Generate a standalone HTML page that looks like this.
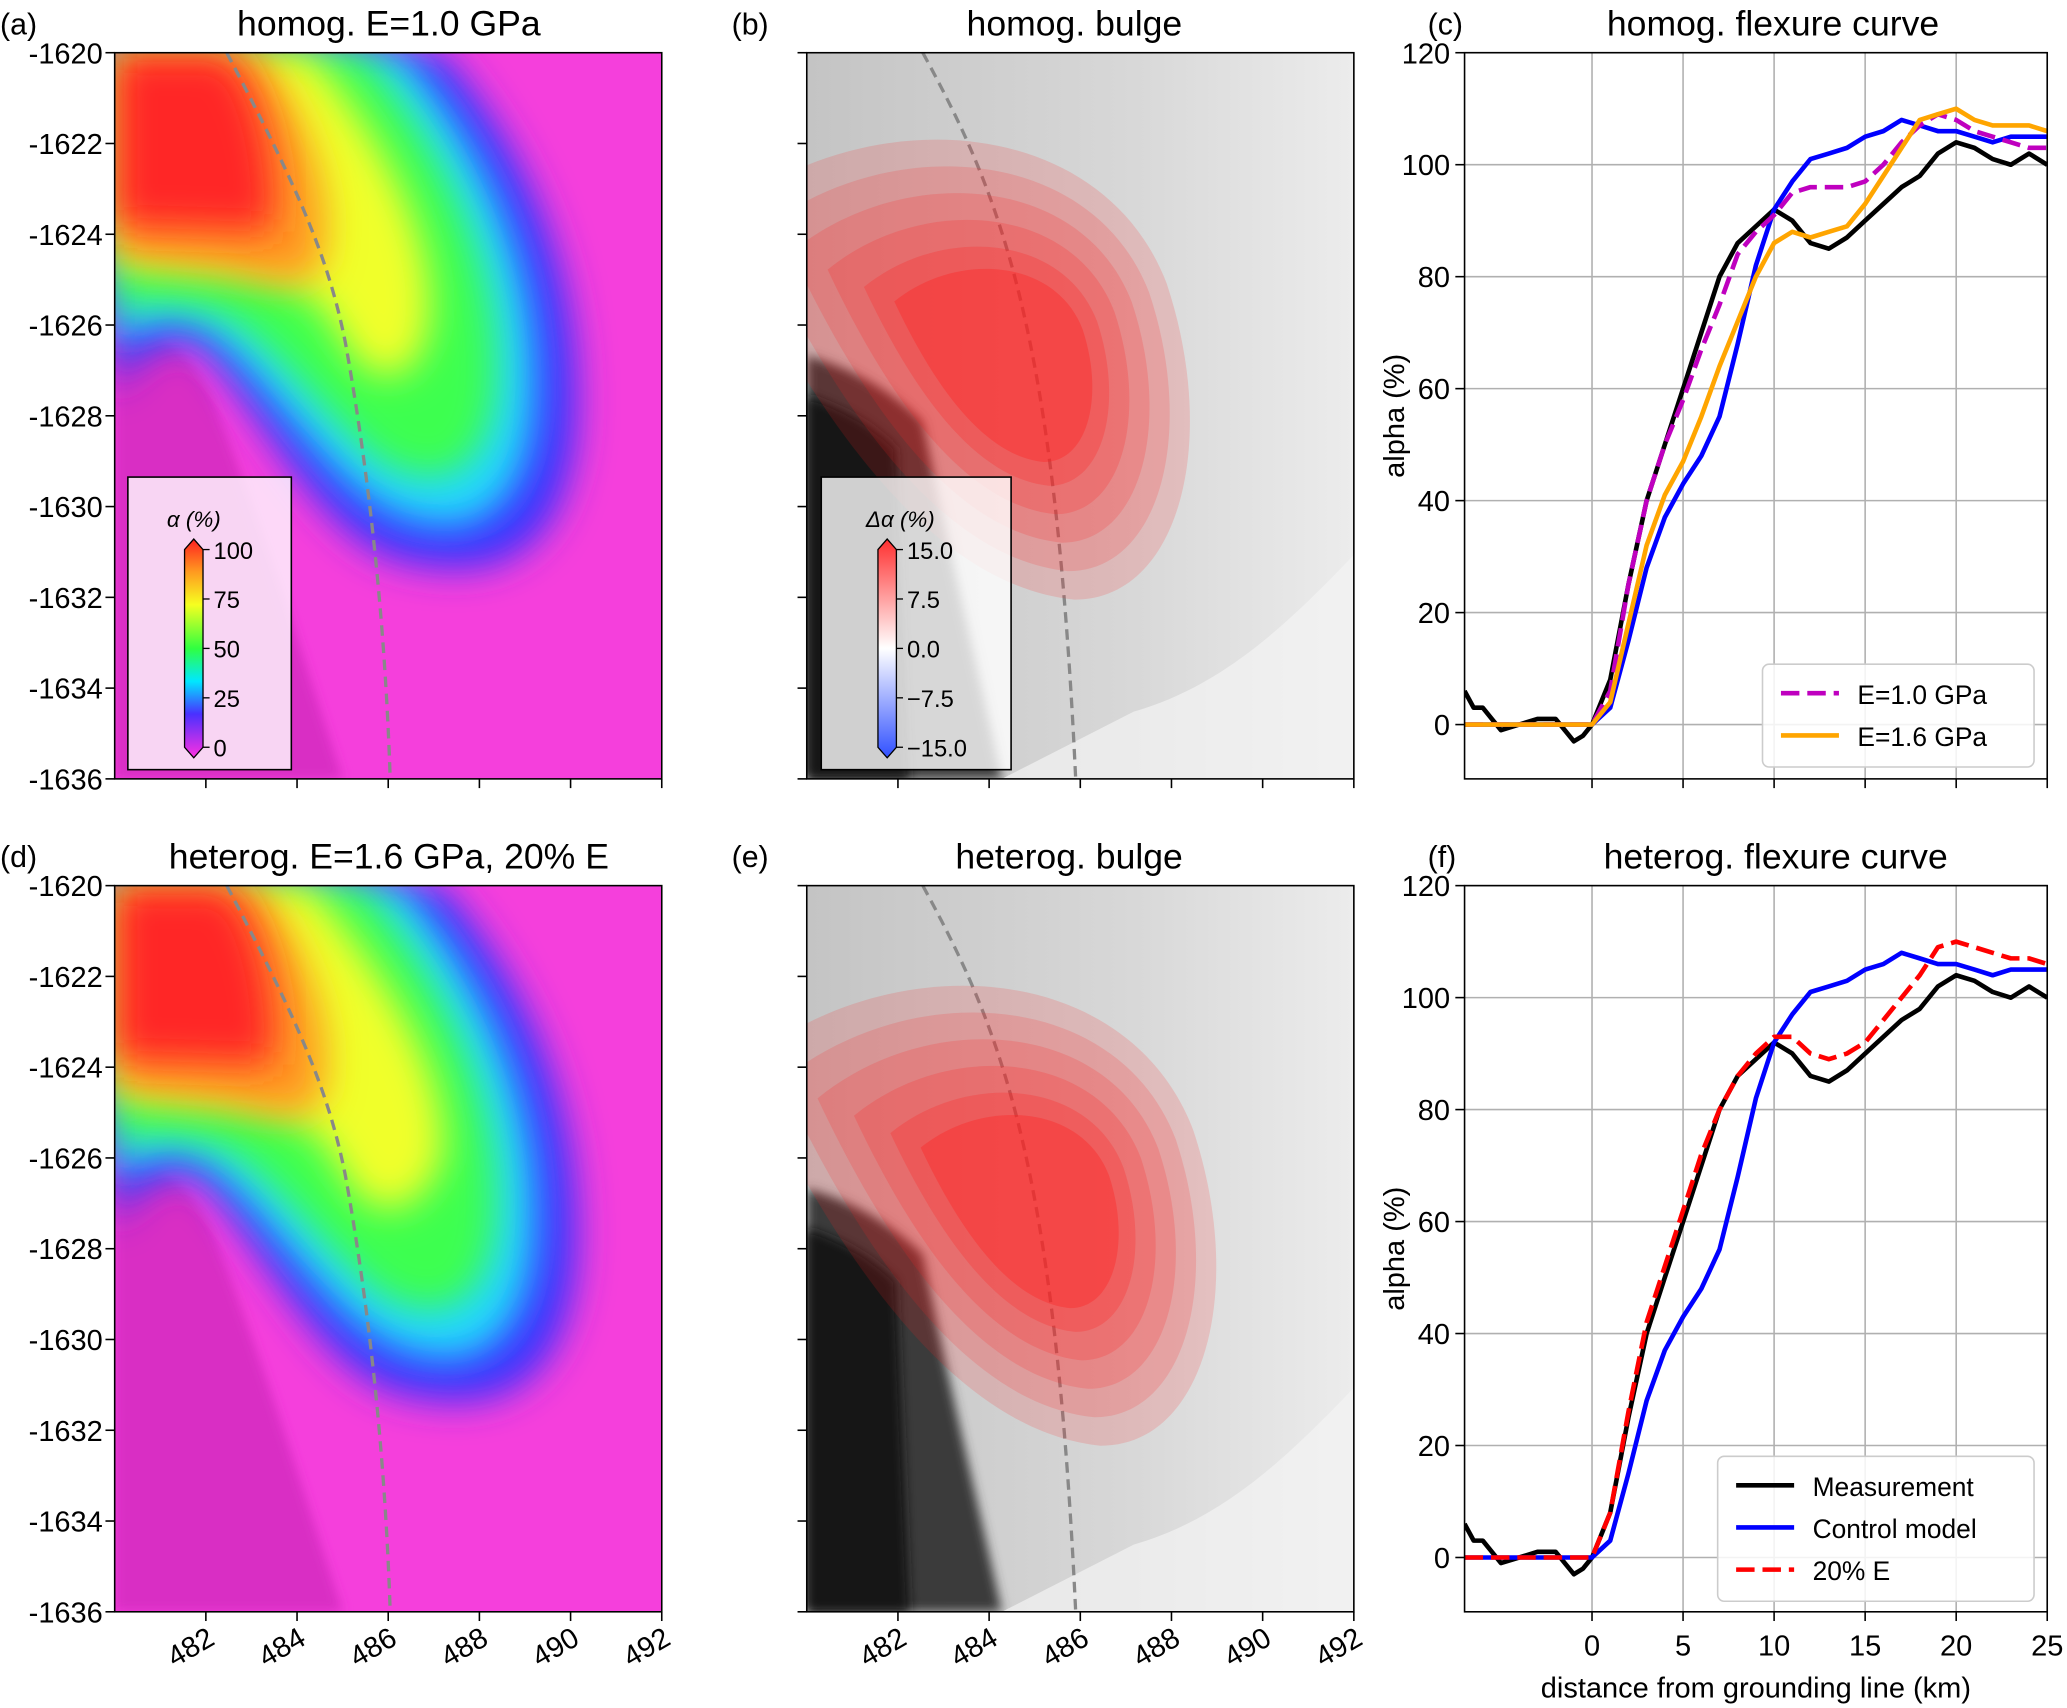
<!DOCTYPE html>
<html><head><meta charset="utf-8">
<style>
body{margin:0;background:#fff;}
svg{display:block;font-family:"Liberation Sans","DejaVu Sans",sans-serif;}
</style></head>
<body>
<svg id="fig" width="2067" height="1708" viewBox="0 0 1568 1296" preserveAspectRatio="none" xmlns="http://www.w3.org/2000/svg">
<defs>
<filter id="blr" x="-20%" y="-20%" width="140%" height="140%"><feGaussianBlur stdDeviation="14"/></filter>
<filter id="blr2" x="-20%" y="-20%" width="140%" height="140%"><feGaussianBlur stdDeviation="4"/></filter>
<clipPath id="cpA"><rect x="87" y="40" width="415" height="551"/></clipPath>
<clipPath id="cpD"><rect x="87" y="672" width="415" height="551"/></clipPath>
<clipPath id="cpB"><rect x="612" y="40" width="416" height="551"/></clipPath>
<clipPath id="cpE"><rect x="612" y="672" width="416" height="551"/></clipPath>
<linearGradient id="cbA" x1="0" y1="1" x2="0" y2="0">
<stop offset="0" stop-color="#ff30e0"/><stop offset="0.2" stop-color="#4a30ff"/><stop offset="0.35" stop-color="#00e8ff"/><stop offset="0.5" stop-color="#30ff40"/><stop offset="0.7" stop-color="#f6ff20"/><stop offset="0.85" stop-color="#ff9a20"/><stop offset="1" stop-color="#ff2020"/></linearGradient>
<linearGradient id="cbB" x1="0" y1="1" x2="0" y2="0">
<stop offset="0" stop-color="#3050ff"/><stop offset="0.5" stop-color="#ffffff"/><stop offset="1" stop-color="#ff3030"/></linearGradient>
<linearGradient id="grayBg" x1="0" y1="0" x2="1" y2="0">
<stop offset="0" stop-color="#c4c4c4"/><stop offset="0.6" stop-color="#d8d8d8"/><stop offset="1" stop-color="#ececec"/></linearGradient>
</defs>
<g id="maps"></g>
<g id="charts"></g>
</svg>
<script>
// ---- chart data ----
const distKm = [-7,-6.5,-6,-5.5,-5,-4,-3,-2,-1.5,-1,-0.5,0,1,2,3,4,5,6,7,8,9,10,11,12,13,14,15,16,17,18,19,20,21,22,23,24,25];
const measurement = [6,3,3,1,-1,0,1,1,-1,-3,-2,0,8,25,40,50,60,70,80,86,89,92,90,86,85,87,90,93,96,98,102,104,103,101,100,102,100];
const controlModel = [0,0,0,0,0,0,0,0,0,0,0,0,3,15,28,37,43,48,55,68,82,92,97,101,102,103,105,106,108,107,106,106,105,104,105,105,105];
const homogE10 = [0,0,0,0,0,0,0,0,0,0,0,0,6,25,40,50,58,67,75,84,88,91,95,96,96,96,97,100,104,107,109,108,106,105,104,103,103];
const homogE16 = [0,0,0,0,0,0,0,0,0,0,0,0,4,18,32,41,47,55,64,72,80,86,88,87,88,89,93,98,103,108,109,110,108,107,107,107,106];
const heterog20E = [0,0,0,0,0,0,0,0,0,0,0,0,8,26,42,52,62,72,80,86,90,93,93,90,89,90,92,96,100,104,109,110,109,108,107,107,106];
const xTicks = [0,5,10,15,20,25];
const yTicks = [0,20,40,60,80,100,120];
const mapYTicks = [-1620,-1622,-1624,-1626,-1628,-1630,-1632,-1634,-1636];
const mapXTicks = [482,484,486,488,490,492];

const NS="http://www.w3.org/2000/svg";
function mk(tag,attrs,parent,txt){const e=document.createElementNS(NS,tag);for(const k in attrs)e.setAttribute(k,attrs[k]);if(txt!==undefined)e.textContent=txt;parent.appendChild(e);return e;}
const maps=document.getElementById('maps'), charts=document.getElementById('charts');

function alphaMap(oy,clip,name,shift){
  const g=mk('g',{'clip-path':'url(#'+clip+')'},maps);
  
  
  mk('rect',{x:87,y:oy,width:415,height:551,fill:'#f53fdc'},g);
  const b=mk('g',{transform:'translate(0,'+(oy-40)+')'},g);
  mk('path',{d:'M87,260 C120,250 140,260 160,300 C200,400 230,500 260,591 L87,591 Z',fill:'#d92ec4',filter:'url(#blr2)'},b);
  const s=shift;
  const bands=[
   ['#3a30ff','M87,40 L335,40 C405,120 445,220 437,330 C427,425 372,445 300,425 C238,405 192,300 152,262 C120,250 95,280 87,300 Z'],
   ['#20d8ff','M87,40 L305,40 C375,120 415,220 405,320 C395,395 352,412 302,392 C250,372 200,282 150,248 C120,238 95,252 87,268 Z'],
   ['#3cff50','M87,40 L275,40 C345,120 385,220 375,305 C365,362 332,372 292,352 C250,322 210,262 170,240 C130,225 100,230 87,238 Z'],
   ['#f0ff2a','M87,40 L235,40 C295,110 '+(335+s)+',190 '+(325+s)+',250 C315,295 282,295 262,262 C242,222 222,212 172,206 L87,200 Z'],
   ['#ff9a22','M87,40 L195,40 C235,90 255,150 245,198 C235,222 205,215 172,206 L87,195 Z'],
   ['#ff2828','M87,40 L172,40 C202,70 212,140 206,176 L87,172 Z']];
  bands.forEach(bd=>{mk('path',{d:bd[1],fill:bd[0],filter:'url(#blr)'},b);});
  mk('path',{d:'M172,40 C230,150 250,200 262,260 C280,360 292,470 296,591',fill:'none',stroke:'#888','stroke-width':2.5,'stroke-dasharray':'8,5'},b);
}
alphaMap(40,'cpA','alpha-map-homog',0);
alphaMap(672,'cpD','alpha-map-heterog',10);

function bulgeMap(oy,clip,name,cx,cy){
  const g=mk('g',{'clip-path':'url(#'+clip+')'},maps);
  
  
  mk('rect',{x:612,y:oy,width:416,height:551,fill:'url(#grayBg)'},g);
  const b=mk('g',{transform:'translate(0,'+(oy-40)+')'},g);
  mk('path',{d:'M612,270 C650,280 680,300 700,320 C720,420 740,500 760,591 L612,591 Z',fill:'#3a3a3a',filter:'url(#blr2)'},b);
  mk('path',{d:'M612,300 C640,310 660,320 680,340 L690,591 L612,591 Z',fill:'#151515',filter:'url(#blr2)'},b);
  mk('path',{d:'M760,591 L1028,591 L1028,420 C980,470 930,520 860,540 Z',fill:'#f4f4f4',opacity:0.7},b);
  mk('path',{d:'M700,40 C760,150 800,250 816,591',fill:'none',stroke:'#888','stroke-width':2.5,'stroke-dasharray':'8,5'},b);
  const lv=[[1.0,0.16],[0.88,0.16],[0.76,0.18],[0.64,0.2],[0.52,0.25],[0.42,0.35]];
  lv.forEach(l=>{const k=l[0];
    mk('path',{d:`M${cx-230*k},${cy-110*k} C${cx-120*k},${cy-200*k} ${cx+60*k},${cy-190*k} ${cx+110*k},${cy-60*k} C${cx+150*k},${cy+60*k} ${cx+120*k},${cy+180*k} ${cx+40*k},${cy+180*k} C${cx-60*k},${cy+170*k} ${cx-150*k},${cy+60*k} ${cx-230*k},${cy-110*k} Z`,fill:'#ff2020','fill-opacity':l[1]},b);});
}
bulgeMap(40,'cpB','bulge-map-homog',775,275);
bulgeMap(672,'cpE','bulge-map-heterog',795,285);

function mapAxes(x0,oy,showY,showX){
  mk('rect',{x:x0,y:oy,width:415,height:551,fill:'none',stroke:'#000','stroke-width':1.2},maps);
  mapYTicks.forEach(v=>{const y=oy+(-1620-v)/16*551;
    mk('line',{x1:x0-7,x2:x0,y1:y,y2:y,stroke:'#000','stroke-width':1.2},maps);
    if(showY){const t=mk('text',{x:x0-9,y:y+8,'text-anchor':'end','font-size':22},maps,String(v));
      }
  });
  mapXTicks.forEach(v=>{const x=x0+(v-480)/12*415;
    mk('line',{x1:x,x2:x,y1:oy+551,y2:oy+558,stroke:'#000','stroke-width':1.2},maps);
    if(showX){const t=mk('text',{x:x+8,y:oy+575,'text-anchor':'end','font-size':22,transform:`rotate(-30 ${x+8} ${oy+575})`},maps,v);
      }
  });
}
mapAxes(87,40,true,false);mapAxes(612,40,false,false);
mapAxes(87,672,true,true);mapAxes(612,672,false,true);

function cbar(x,y,grad,title,labels,name,w){
  const g=mk('g',{},maps);
  
  
  mk('rect',{x:x,y:y,width:w,height:222,fill:'#fff','fill-opacity':0.8,stroke:'#000','stroke-width':1.2},g);
  mk('text',{x:x+w/2-12,y:y+38,'text-anchor':'middle','font-size':17,'font-style':'italic'},g,title);
  const bx=x+43,by=y+55,bh=150;
  mk('polygon',{points:`${bx},${by} ${bx+7},${by-8} ${bx+14},${by} ${bx+14},${by+bh} ${bx+7},${by+bh+8} ${bx},${by+bh}`,fill:'url(#'+grad+')',stroke:'#000','stroke-width':1},g);
  labels.forEach((l,i)=>{const yy=by+bh*(1-i/(labels.length-1));
    mk('line',{x1:bx+14,x2:bx+19,y1:yy,y2:yy,stroke:'#000'},g);
    mk('text',{x:bx+22,y:yy+7,'font-size':18},g,l);});
}
cbar(97,362,'cbA','α (%)',['0','25','50','75','100'],'alpha-colorbar',124);
cbar(623,362,'cbB','Δα (%)',['−15.0','−7.5','0.0','7.5','15.0'],'delta-alpha-colorbar',144);

[['(a)',0,26],['homog. E=1.0 GPa',295,27],['(b)',555,26],['homog. bulge',815,27],['(c)',1083,26],['homog. flexure curve',1345,27],
 ['(d)',0,658],['heterog. E=1.6 GPa, 20% E',295,659],['(e)',555,658],['heterog. bulge',811,659],['(f)',1083,658],['heterog. flexure curve',1347,659]].forEach(t=>{
  const isLab=t[0].length===3;
  const e=mk('text',{x:t[1],y:t[2],'font-size':isLab?23:27,'text-anchor':isLab?'start':'middle'},maps,t[0]);
  
  
});

function lineChart(oy,series,legend,name,showX){
  const x0=1111,w=442,h=551;
  const X=v=>x0+(v+7)/32*w, Y=v=>oy+h-(v+9.7)/129.7*h;
  const g=mk('g',{},charts);
  
  
  xTicks.forEach(v=>{mk('line',{x1:X(v),x2:X(v),y1:oy,y2:oy+h,stroke:'#b0b0b0','stroke-width':1.2},g);
    mk('line',{x1:X(v),x2:X(v),y1:oy+h,y2:oy+h+7,stroke:'#000','stroke-width':1.2},g);
    if(showX){const t=mk('text',{x:X(v),y:oy+h+33,'text-anchor':'middle','font-size':22},g,v);
    }});
  yTicks.forEach(v=>{mk('line',{x1:x0,x2:x0+w,y1:Y(v),y2:Y(v),stroke:'#b0b0b0','stroke-width':1.2},g);
    mk('line',{x1:x0-7,x2:x0,y1:Y(v),y2:Y(v),stroke:'#000','stroke-width':1.2},g);
    const t=mk('text',{x:x0-11,y:Y(v)+8,'text-anchor':'end','font-size':22},g,v);
    });
  const cp='cl'+oy;
  const c=mk('clipPath',{id:cp},g);mk('rect',{x:x0,y:oy,width:w,height:h},c);
  series.forEach(s=>{
    const p=mk('path',{d:distKm.map((d,i)=>(i?'L':'M')+X(d).toFixed(1)+','+Y(s.v[i]).toFixed(1)).join(''),fill:'none',stroke:s.c,'stroke-width':3.5,'stroke-dasharray':s.dash||'none','clip-path':'url(#'+cp+')','stroke-linejoin':'round'},g);
    
    
  });
  mk('rect',{x:x0,y:oy,width:w,height:h,fill:'none',stroke:'#000','stroke-width':1.2},g);
  const yl=mk('text',{x:1065,y:oy+h/2,'text-anchor':'middle','font-size':22,transform:`rotate(-90 1065 ${oy+h/2})`},g,'alpha (%)');
  
  const lx=legend.x,ly=legend.y,lh=legend.items.length*32+14;
  const lg=mk('g',{},g);
  
  
  mk('rect',{x:lx,y:ly,width:legend.w,height:lh,rx:5,fill:'#fff','fill-opacity':0.85,stroke:'#ccc','stroke-width':1.2},lg);
  legend.items.forEach((it,i)=>{const yy=ly+22+i*32;
    mk('line',{x1:lx+14,x2:lx+58,y1:yy,y2:yy,stroke:it.c,'stroke-width':3.5,'stroke-dasharray':it.dash||'none'},lg);
    const t=mk('text',{x:lx+72,y:yy+8,'font-size':20},lg,it.n);
    });
}
lineChart(40,[
 {n:'measurement-line',c:'#000',v:measurement},
 {n:'control-model-line',c:'#0000ff',v:controlModel},
 {n:'e-1-0-gpa-line',c:'#bf00bf',v:homogE10,dash:'14,6'},
 {n:'e-1-6-gpa-line',c:'#ffa500',v:homogE16}],
 {x:1337,y:504,w:206,items:[{n:'E=1.0 GPa',c:'#bf00bf',dash:'14,6'},{n:'E=1.6 GPa',c:'#ffa500'}]},'flexure-chart-homog',false);
lineChart(672,[
 {n:'measurement-line',c:'#000',v:measurement},
 {n:'control-model-line',c:'#0000ff',v:controlModel},
 {n:'20-percent-e-line',c:'#ff0000',v:heterog20E,dash:'14,6'}],
 {x:1303,y:1105,w:240,items:[{n:'Measurement',c:'#000'},{n:'Control model',c:'#0000ff'},{n:'20% E',c:'#ff0000',dash:'14,6'}]},'flexure-chart-heterog',true);
const xl=mk('text',{x:1332,y:1288,'text-anchor':'middle','font-size':22},charts,'distance from grounding line (km)');


</script>
</body></html>
